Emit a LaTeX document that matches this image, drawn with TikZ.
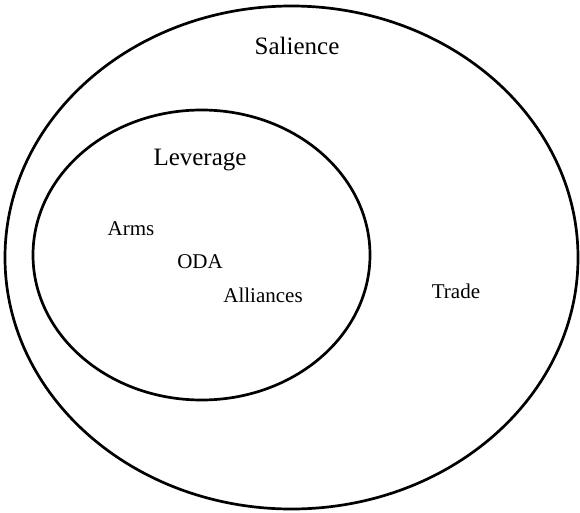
\documentclass[tikz,border=0pt]{standalone}
\usepackage{fontspec}
\setmainfont{Liberation Serif}
\usepackage{tikz}
\usetikzlibrary{calc}

\tikzset{
  ring/.style={draw=black, line width=2.7pt},
  setname/.style={font=\fontsize{25}{30}\selectfont, anchor=base, inner sep=0pt},
  item/.style={font=\fontsize{21}{25}\selectfont, anchor=base, inner sep=0pt}
}

\begin{document}
\begin{tikzpicture}[x=1pt, y=-1pt]
      \useasboundingbox (0,0) rectangle (580,513);

      % salience and leverage
      \draw[ring] (291.5,257.5) ellipse [x radius=286.5, y radius=251.5];
      \draw[ring] (201.5,255) ellipse [x radius=168.5, y radius=145];

      \node[setname] (salience) at (297,55) {Salience};
      \node[setname] (leverage) at (200,165) {Leverage};

      \node[item] (arms) at (131,235) {Arms};
      \node[item] (oda) at (200,268) {ODA};
      \node[item] (alliances) at (263,302) {Alliances};
      \node[item] (trade) at (456,298) {Trade};
\end{tikzpicture}
\end{document}
